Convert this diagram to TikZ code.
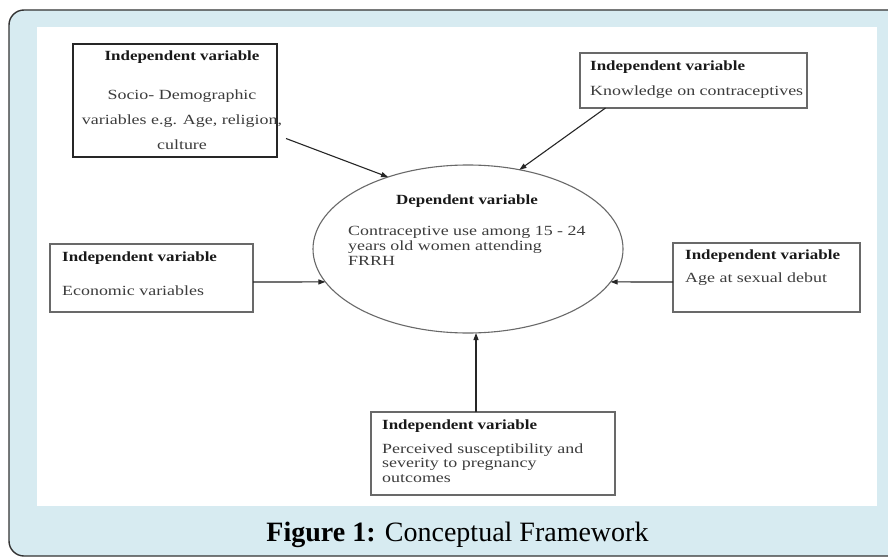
\documentclass[tikz,border=0pt]{standalone}
\usepackage{fontspec}
\usetikzlibrary{shapes.geometric,arrows.meta}
\setmainfont{Liberation Serif}
\newfontfamily\diagfont[FakeStretch=1.28,BoldFeatures={FakeStretch=1.21}]{Liberation Serif}
\newfontfamily\capfont{Liberation Serif}
\definecolor{frameblue}{RGB}{215,235,241}
\definecolor{boxgray}{RGB}{105,105,105}
\definecolor{txtgray}{RGB}{60,60,60}
\definecolor{ttlgray}{RGB}{25,25,25}
\tikzset{
  ibox/.style={draw=boxgray, line width=1.1pt, rectangle, inner sep=0pt, outer sep=0pt},
  thickbox/.style={draw=black!85, line width=2.2pt, rectangle, inner sep=0pt, outer sep=0pt},
  ttl/.style={inner sep=0pt, text=ttlgray, font=\diagfont\bfseries\fontsize{14}{15}\selectfont},
  txt/.style={inner sep=0pt, text=txtgray, font=\diagfont\fontsize{14}{14.5}\selectfont},
  arr/.style={draw=black!85, line width=1.1pt, -{Triangle[length=7pt,width=5pt]}},
}
\begin{document}
\begin{tikzpicture}[x=1pt,y=-1pt]
\useasboundingbox (0,0) rectangle (888,559);
\begin{scope}
  \clip (0,0) rectangle (888,559);
  \draw[fill=frameblue, draw=black!80, line width=1.4pt, rounded corners=15pt] (9,10) rectangle (910,556);
\end{scope}
\fill[white] (37,27) rectangle (877,506);

% boxes
\node[thickbox, minimum width=204pt, minimum height=113pt] (sd) at (175,100.5) {};
\node[ibox, minimum width=227pt, minimum height=55pt] (know) at (693.5,80.5) {};
\node[ibox, minimum width=203pt, minimum height=68pt] (econ) at (151.5,278) {};
\node[ibox, minimum width=187pt, minimum height=69pt] (age) at (766.5,277.5) {};
\node[ibox, minimum width=244pt, minimum height=83pt] (perc) at (493,453.5) {};
\node[ellipse, draw=boxgray, line width=1.1pt, minimum width=310pt, minimum height=168pt, inner sep=0pt, outer sep=0pt] (dep) at (468,249) {};

% texts (multi-line nodes: base anchor = last line's baseline)
\node[ttl, anchor=base] (sdT) at (182,61) {Independent variable};
\node[txt, anchor=base, align=center, font=\diagfont\fontsize{14}{25}\selectfont] (sdB) at (182,149) {Socio- Demographic\\variables e.g. Age, religion,\\culture};

\node[ttl, anchor=base west] (knowT) at (590,71) {Independent variable};
\node[txt, anchor=base west] (knowB) at (590,96) {Knowledge on contraceptives};

\node[ttl, anchor=base west] (econT) at (62,261) {Independent variable};
\node[txt, anchor=base west] (econB) at (62,295) {Economic variables};

\node[ttl, anchor=base west] (ageT) at (685,259) {Independent variable};
\node[txt, anchor=base west] (ageB) at (685,282) {Age at sexual debut};

\node[ttl, anchor=base west] (percT) at (382,429) {Independent variable};
\node[txt, anchor=base west, align=left] (percB) at (382,482) {Perceived susceptibility and\\severity to pregnancy\\outcomes};

\node[ttl, anchor=base] (depT) at (467,204) {Dependent variable};
\node[txt, anchor=base west, align=left, font=\diagfont\fontsize{14}{15}\selectfont] (depB) at (348,265) {Contraceptive use among 15 - 24\\years old women attending\\FRRH};

% arrows
\draw[arr] ([shift={(9pt,-38pt)}]sd.east) -- (dep.138);
\draw[arr] ([xshift=-88pt]know.south) -- (dep.57);
\draw[arr] ([yshift=-4pt]econ.east) -- (dep.193);
\draw[arr] ([yshift=-4.5pt]age.west) -- (dep.-13);
\draw[arr] ([xshift=-17pt]perc.north) -- ([xshift=8pt]dep.south);

% caption
\node[inner sep=0pt, anchor=base, font=\capfont\fontsize{28}{30}\selectfont] (cap) at (457.5,541) {\textbf{Figure 1:} Conceptual Framework};
\end{tikzpicture}
\end{document}
